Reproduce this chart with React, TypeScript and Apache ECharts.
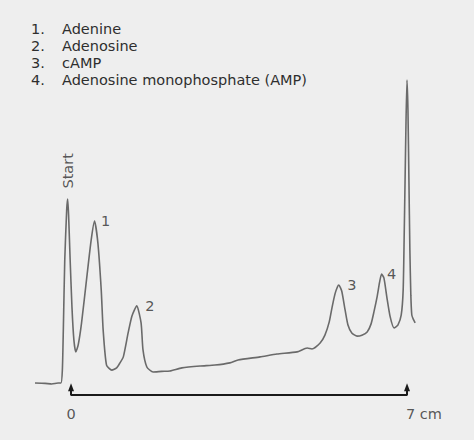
import React, { useEffect, useRef } from "react";
import * as echarts from "echarts";

// migration distance (cm) and detector signal (arbitrary units)
const positionCm = [
  -0.75, -0.54, -0.4, -0.27, -0.21, -0.18, -0.16, -0.13, -0.09, -0.07, -0.05, -0.02,
  0.02, 0.06, 0.1, 0.15, 0.22, 0.33, 0.42, 0.49, 0.56, 0.63, 0.67, 0.74, 0.85, 0.95,
  1.02, 1.09, 1.19, 1.27, 1.37, 1.46, 1.5, 1.58, 1.71, 1.89, 2.06, 2.31, 2.69, 3.0,
  3.31, 3.48, 3.94, 4.29, 4.71, 4.92, 5.02, 5.19, 5.29, 5.38, 5.44, 5.5, 5.55, 5.58,
  5.64, 5.71, 5.77, 5.85, 5.96, 6.06, 6.17, 6.25, 6.31, 6.38, 6.43, 6.47, 6.52, 6.58,
  6.65, 6.73, 6.81, 6.88, 6.92, 6.94, 6.96, 6.98, 7.0, 7.02, 7.04, 7.06, 7.08, 7.1,
  7.13, 7.17,
];
const signal = [
  3.8, 3.7, 3.5, 3.8, 3.8, 7.9, 20.6, 42.9, 58.7, 62.2, 57.1, 43.8,
  27.9, 17.5, 13.7, 15.9, 22.9, 37.5, 49.2, 55.2, 48.3, 33.3, 20.6, 9.5, 7.9, 8.6,
  10.2, 12.1, 19.7, 25.1, 28.3, 22.9, 14.3, 8.9, 7.3, 7.5, 7.6, 8.6, 9.2, 9.5,
  10.2, 11.1, 12.1, 13.0, 13.7, 14.9, 14.6, 16.5, 19.0, 23.2, 27.9, 32.1, 34.3, 34.9,
  33.0, 27.0, 22.2, 19.7, 18.7, 19.0, 20.0, 22.5, 26.3, 31.4, 35.9, 38.4, 37.1, 31.1,
  24.8, 21.3, 22.2, 25.4, 33.3, 49.2, 68.3, 87.3, 100, 90.5, 68.3, 46.0, 31.7, 25.4,
  24.1, 22.9,
];

const peakNames = ["Start", "1", "2", "3", "4"];
const peakAtCm = [-0.07, 0.49, 1.37, 5.58, 6.47];

const legendItems = [
  "Adenine",
  "Adenosine",
  "cAMP",
  "Adenosine monophosphate (AMP)",
];

const scaleEnds = [0, 7];
const scaleLabels = ["0", "7 cm"];

const FONT = "DejaVu Sans";
const TEXT = "#2e2e2e";

export default function App() {
  const ref = useRef<HTMLDivElement>(null);

  useEffect(() => {
    const chart = echarts.init(ref.current!, null, { renderer: "svg" });

    const peakLabelStyle: Record<string, any> = {
      Start: { position: "top", distance: 10, rotate: 90, align: "left", verticalAlign: "middle" },
      "1": { position: "right", distance: 6 },
      "2": { position: "right", distance: 8 },
      "3": { position: "right", distance: 8 },
      "4": { position: "right", distance: 5 },
    };

    const peakData = peakNames.map((name, i) => {
      const idx = positionCm.indexOf(peakAtCm[i]);
      return {
        value: [positionCm[idx], signal[idx]],
        name,
        label: {
          show: true,
          formatter: name,
          fontFamily: FONT,
          fontSize: 14.5,
          fontWeight: "normal",
          color: TEXT,
          ...peakLabelStyle[name],
        },
      };
    });

    const tickH = 2.5;
    const scaleData = [
      { value: [scaleEnds[0], tickH], symbol: "triangle", symbolSize: [6, 8] },
      { value: [scaleEnds[0], 0], symbol: "none" },
      { value: [scaleEnds[1], 0], symbol: "none" },
      { value: [scaleEnds[1], tickH], symbol: "triangle", symbolSize: [6, 8] },
    ];

    const scaleLabelData = scaleEnds.map((x, i) => ({
      value: [x, 0],
      label: {
        show: true,
        formatter: scaleLabels[i],
        position: "bottom",
        distance: 11,
        fontFamily: FONT,
        fontSize: 14.5,
        color: TEXT,
        align: i === 0 ? "center" : "left",
        offset: i === 0 ? [0, 0] : [-1, 0],
      },
    }));

    const richBase = { fontFamily: FONT, fontSize: 14.5, fontWeight: "normal", color: TEXT, lineHeight: 17 };

    const option: any = {
      animation: false,
      backgroundColor: "#eeeeee",
      title: {
        left: 31,
        top: 20,
        padding: 0,
        text: legendItems.map((t, i) => `{n|${i + 1}.}{t|${t}}`).join("\n"),
        textStyle: {
          fontWeight: "normal",
          rich: {
            n: { ...richBase, width: 31 },
            t: { ...richBase },
          },
        },
      },
      grid: { left: 23, right: 19, top: 80, bottom: 45 },
      xAxis: { type: "value", min: -1, max: 8, show: false },
      yAxis: { type: "value", min: 0, max: 100, show: false },
      series: [
        {
          type: "line",
          data: positionCm.map((x, i) => [x, signal[i]]),
          showSymbol: false,
          clip: false,
          lineStyle: { color: "#6a6a6a", width: 1.6 },
          smooth: 0.2,
          z: 3,
        },
        {
          type: "line",
          data: scaleData,
          clip: false,
          showSymbol: true,
          itemStyle: { color: "#1a1a1a" },
          lineStyle: { color: "#1a1a1a", width: 2 },
          z: 2,
        },
        {
          type: "scatter",
          data: peakData,
          symbolSize: 1,
          itemStyle: { color: "rgba(0,0,0,0)" },
          clip: false,
          z: 4,
        },
        {
          type: "scatter",
          data: scaleLabelData,
          symbolSize: 1,
          itemStyle: { color: "rgba(0,0,0,0)" },
          clip: false,
          z: 4,
        },
      ],
    };

    chart.setOption(option);
    return () => chart.dispose();
  }, []);

  return (
    <div
      ref={ref}
      style={{
        position: "absolute",
        left: 0,
        top: 0,
        width: 474,
        height: 440,
        background: "#eeeeee",
      }}
    />
  );
}
